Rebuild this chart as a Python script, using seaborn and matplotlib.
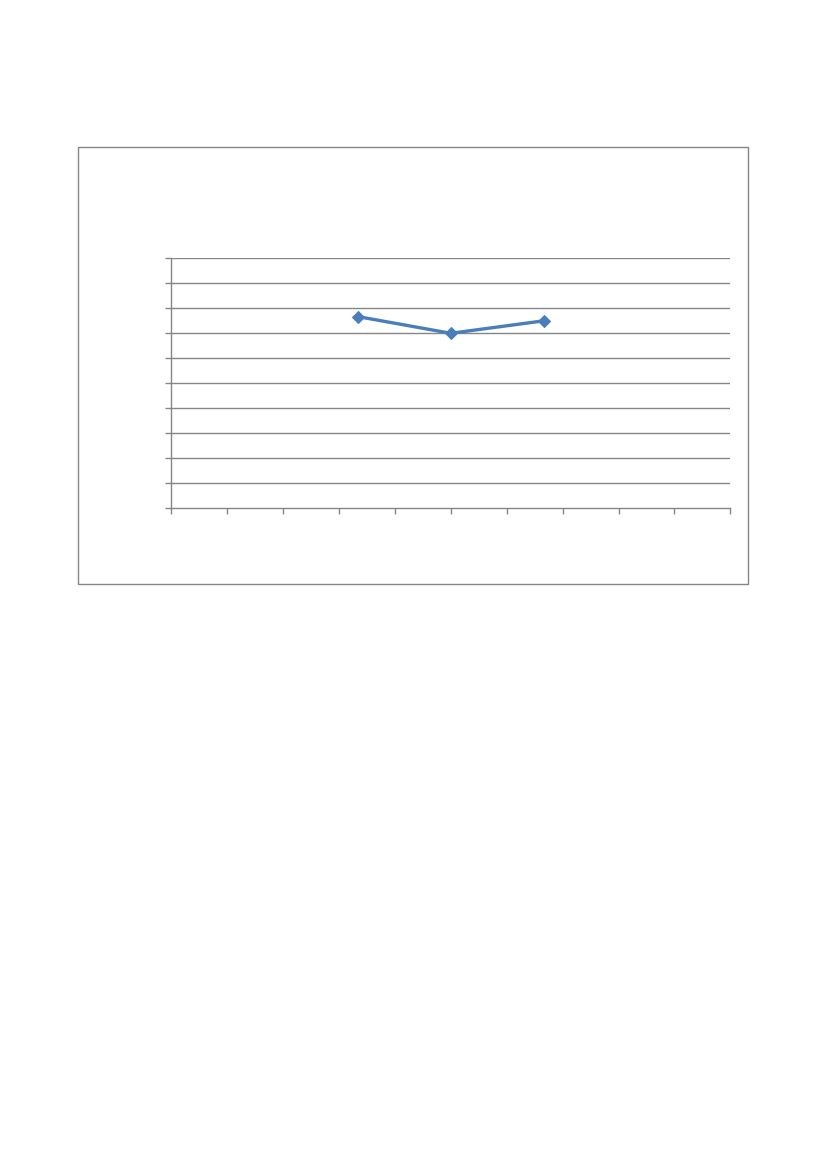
import matplotlib
matplotlib.use("Agg")
import matplotlib.pyplot as plt
from matplotlib.patches import Rectangle
import numpy as np
import pandas as pd
import seaborn as sns

# Data
x_values = [1.0, 1.5, 2.0]
y_values = [7.67, 7.0, 7.5]
x_ticks = [0.0, 0.3, 0.6, 0.9, 1.2, 1.5, 1.8, 2.1, 2.4, 2.7, 3.0]
y_ticks = [0, 1, 2, 3, 4, 5, 6, 7, 8, 9, 10]

df = pd.DataFrame({"x": x_values, "y": y_values})

sns.set_theme(style="white")
plt.rcParams['font.family'] = ['DejaVu Sans']

fig = plt.figure(figsize=(8.27, 11.69), dpi=100)

# Chart frame
W, H = 827, 1169
frame = Rectangle((78.3 / W, 1 - 584 / H), (748.3 - 78.3) / W, (584 - 147) / H,
                  transform=fig.transFigure, fill=False, edgecolor="#868686",
                  linewidth=1.0, zorder=0)
fig.patches.append(frame)

ax = fig.add_axes([171.3 / W, 1 - 508.3 / H, (730.3 - 171.3) / W, (508.3 - 258.3) / H])

sns.lineplot(data=df, x="x", y="y", ax=ax, color="#4A7EBB", linewidth=2.4,
             marker="D", markersize=6.5, markeredgecolor="#4A7EBB",
             markerfacecolor="#4A7EBB", zorder=5, clip_on=False)

ax.set_xlim(x_ticks[0], x_ticks[-1])
ax.set_ylim(y_ticks[0], y_ticks[-1])
ax.set_xticks(x_ticks)
ax.set_yticks(y_ticks)
ax.set_xticklabels([])
ax.set_yticklabels([])
ax.set_xlabel("")
ax.set_ylabel("")

ax.grid(False)
for yv in y_ticks[1:]:
    ax.axhline(yv, color="#868686", linewidth=1.0, zorder=1)

for s in ["top", "right"]:
    ax.spines[s].set_visible(False)
for s in ["left", "bottom"]:
    ax.spines[s].set_color("#868686")
    ax.spines[s].set_linewidth(1.0)

ax.tick_params(axis="both", which="major", length=4.3, width=1.0,
               color="#868686", direction="out", bottom=True, left=True)
ax.set_facecolor("none")

fig.savefig("out.png", dpi=100, facecolor="white")
